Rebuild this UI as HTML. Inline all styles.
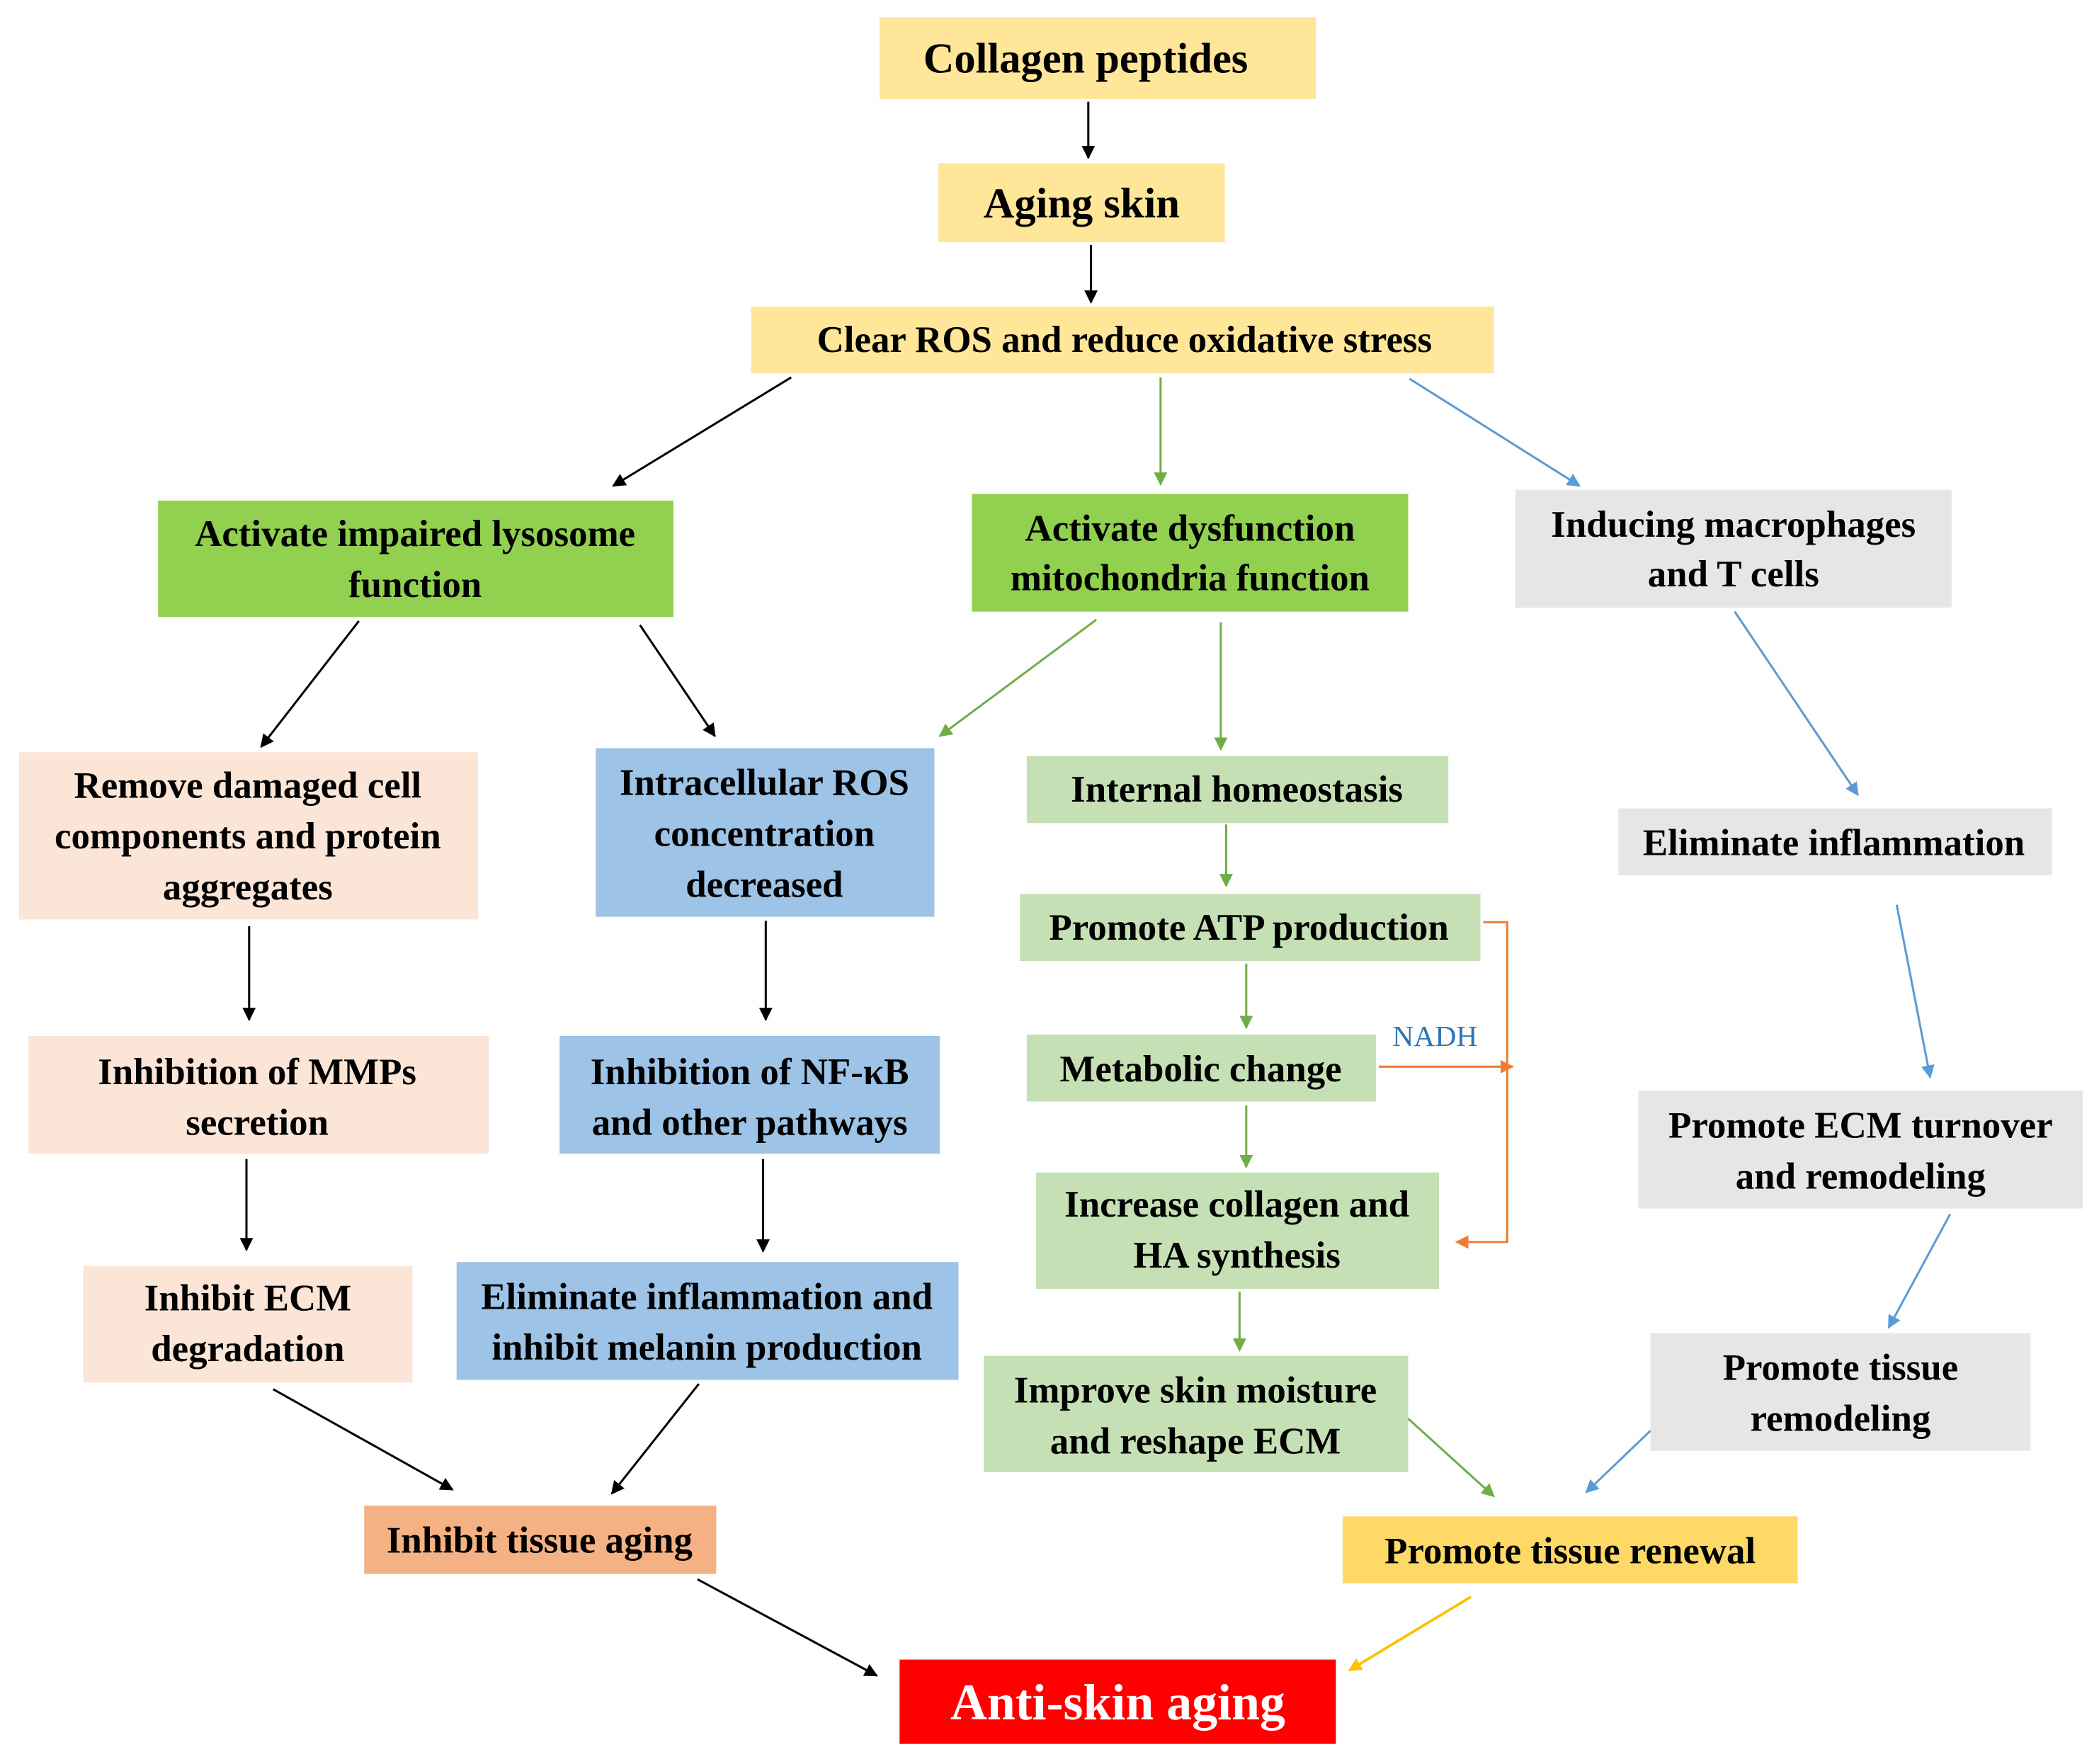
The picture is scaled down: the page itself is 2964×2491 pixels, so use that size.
<!DOCTYPE html>
<html><head><meta charset="utf-8"><style>html,body{margin:0;padding:0;background:#fff}svg{display:block}</style></head>
<body>
<svg width="2964" height="2491" viewBox="0 0 1568 1318" xmlns="http://www.w3.org/2000/svg">
<defs>
<marker id="mk" markerWidth="10" markerHeight="10" refX="9" refY="5" orient="auto" markerUnits="userSpaceOnUse"><path d="M0,0 L10,5 L0,10 z" fill="#000"/></marker>
<marker id="mg" markerWidth="10" markerHeight="10" refX="9" refY="5" orient="auto" markerUnits="userSpaceOnUse"><path d="M0,0 L10,5 L0,10 z" fill="#70AD47"/></marker>
<marker id="mb" markerWidth="10" markerHeight="10" refX="9" refY="5" orient="auto" markerUnits="userSpaceOnUse"><path d="M0,0 L10,5 L0,10 z" fill="#5B9BD5"/></marker>
<marker id="mo" markerWidth="10" markerHeight="10" refX="9" refY="5" orient="auto" markerUnits="userSpaceOnUse"><path d="M0,0 L10,5 L0,10 z" fill="#ED7D31"/></marker>
<marker id="my" markerWidth="10" markerHeight="10" refX="9" refY="5" orient="auto" markerUnits="userSpaceOnUse"><path d="M0,0 L10,5 L0,10 z" fill="#FFC000"/></marker>
</defs>
<g>
<rect x="657" y="13" width="326" height="61" fill="#FFE699"/>
<rect x="701" y="122" width="214" height="59" fill="#FFE699"/>
<rect x="561" y="229" width="555" height="50" fill="#FFE699"/>
<rect x="118" y="374" width="385" height="87" fill="#92D050"/>
<rect x="726" y="369" width="326" height="88" fill="#92D050"/>
<rect x="1132" y="366" width="326" height="88" fill="#E7E6E6"/>
<rect x="14" y="562" width="343" height="125" fill="#FBE5D6"/>
<rect x="445" y="559" width="253" height="126" fill="#9DC3E6"/>
<rect x="767" y="565" width="315" height="50" fill="#C5E0B4"/>
<rect x="1209" y="604" width="324" height="50" fill="#E7E6E6"/>
<rect x="762" y="668" width="344" height="50" fill="#C5E0B4"/>
<rect x="767" y="773" width="261" height="50" fill="#C5E0B4"/>
<rect x="21" y="774" width="344" height="88" fill="#FBE5D6"/>
<rect x="418" y="774" width="284" height="88" fill="#9DC3E6"/>
<rect x="1224" y="815" width="332" height="88" fill="#E7E6E6"/>
<rect x="774" y="876" width="301" height="87" fill="#C5E0B4"/>
<rect x="62" y="946" width="246" height="87" fill="#FBE5D6"/>
<rect x="341" y="943" width="375" height="88" fill="#9DC3E6"/>
<rect x="1233" y="996" width="284" height="88" fill="#E7E6E6"/>
<rect x="735" y="1013" width="317" height="87" fill="#C5E0B4"/>
<rect x="272" y="1125" width="263" height="51" fill="#F4B183"/>
<rect x="1003" y="1133" width="340" height="50" fill="#FFD966"/>
<rect x="672" y="1240" width="326" height="63" fill="#FF0000"/>
</g>
<g font-family="Liberation Serif, serif" font-weight="bold" font-size="28" text-anchor="middle" fill="#000" dominant-baseline="central">
<text x="811" y="44" font-size="32">Collagen peptides</text>
<text x="808" y="152" font-size="32">Aging skin</text>
<text x="840" y="254">Clear ROS and reduce oxidative stress</text>
<text x="310" y="399">Activate impaired lysosome</text><text x="310" y="437">function</text>
<text x="889" y="395">Activate dysfunction</text><text x="889" y="432">mitochondria function</text>
<text x="1295" y="392">Inducing macrophages</text><text x="1295" y="429">and T cells</text>
<text x="185" y="587">Remove damaged cell</text><text x="185" y="625">components and protein</text><text x="185" y="663">aggregates</text>
<text x="571" y="585">Intracellular ROS</text><text x="571" y="623">concentration</text><text x="571" y="661">decreased</text>
<text x="924" y="590">Internal homeostasis</text>
<text x="1370" y="630">Eliminate inflammation</text>
<text x="933" y="693">Promote ATP production</text>
<text x="897" y="799">Metabolic change</text>
<text x="192" y="801">Inhibition of MMPs</text><text x="192" y="839">secretion</text>
<text x="560" y="801">Inhibition of NF-κB</text><text x="560" y="839">and other pathways</text>
<text x="1390" y="841">Promote ECM turnover</text><text x="1390" y="879">and remodeling</text>
<text x="924" y="900">Increase collagen and</text><text x="924" y="938">HA synthesis</text>
<text x="185" y="970">Inhibit ECM</text><text x="185" y="1008">degradation</text>
<text x="528" y="969">Eliminate inflammation and</text><text x="528" y="1007">inhibit melanin production</text>
<text x="1375" y="1022">Promote tissue</text><text x="1375" y="1060">remodeling</text>
<text x="893" y="1039">Improve skin moisture</text><text x="893" y="1077">and reshape ECM</text>
<text x="403" y="1151">Inhibit tissue aging</text>
<text x="1173" y="1159">Promote tissue renewal</text>
<text x="835" y="1272" font-size="38" fill="#fff">Anti-skin aging</text>
</g>
<text x="1072" y="774" font-family="Liberation Serif, serif" font-size="22" fill="#2E75B6" text-anchor="middle" dominant-baseline="central">NADH</text>
<g fill="none" stroke-width="1.6">
<g stroke="#000" marker-end="url(#mk)">
<line x1="813" y1="76" x2="813" y2="118"/><line x1="815" y1="183" x2="815" y2="226"/>
<line x1="591" y1="282" x2="458" y2="363"/>
<line x1="268" y1="464" x2="195" y2="558"/><line x1="478" y1="467" x2="534" y2="550"/>
<line x1="186" y1="692" x2="186" y2="762"/><line x1="572" y1="688" x2="572" y2="762"/>
<line x1="184" y1="866" x2="184" y2="934"/><line x1="570" y1="866" x2="570" y2="935"/>
<line x1="204" y1="1038" x2="338" y2="1113"/><line x1="522" y1="1034" x2="457" y2="1116"/>
<line x1="521" y1="1180" x2="655" y2="1252"/>
</g>
<g stroke="#70AD47" marker-end="url(#mg)">
<line x1="867" y1="282" x2="867" y2="362"/>
<line x1="819" y1="463" x2="702" y2="550"/><line x1="912" y1="465" x2="912" y2="560"/>
<line x1="916" y1="616" x2="916" y2="662"/><line x1="931" y1="720" x2="931" y2="768"/>
<line x1="931" y1="826" x2="931" y2="872"/><line x1="926" y1="965" x2="926" y2="1009"/>
<line x1="1052" y1="1060" x2="1116" y2="1118"/>
</g>
<g stroke="#5B9BD5" marker-end="url(#mb)">
<line x1="1053" y1="283" x2="1180" y2="363"/>
<line x1="1296" y1="457" x2="1388" y2="594"/>
<line x1="1417" y1="676" x2="1442" y2="805"/>
<line x1="1457" y1="907" x2="1411" y2="992"/>
<line x1="1233" y1="1069" x2="1185" y2="1115"/>
</g>
<g stroke="#ED7D31">
<polyline points="1108,689 1126,689 1126,928 1088,928" marker-end="url(#mo)"/>
<line x1="1030" y1="797" x2="1130" y2="797" marker-end="url(#mo)"/>
</g>
<line x1="1099" y1="1193" x2="1008" y2="1248" stroke="#FFC000" stroke-width="2" marker-end="url(#my)"/>
</g>
</svg>
</body></html>
